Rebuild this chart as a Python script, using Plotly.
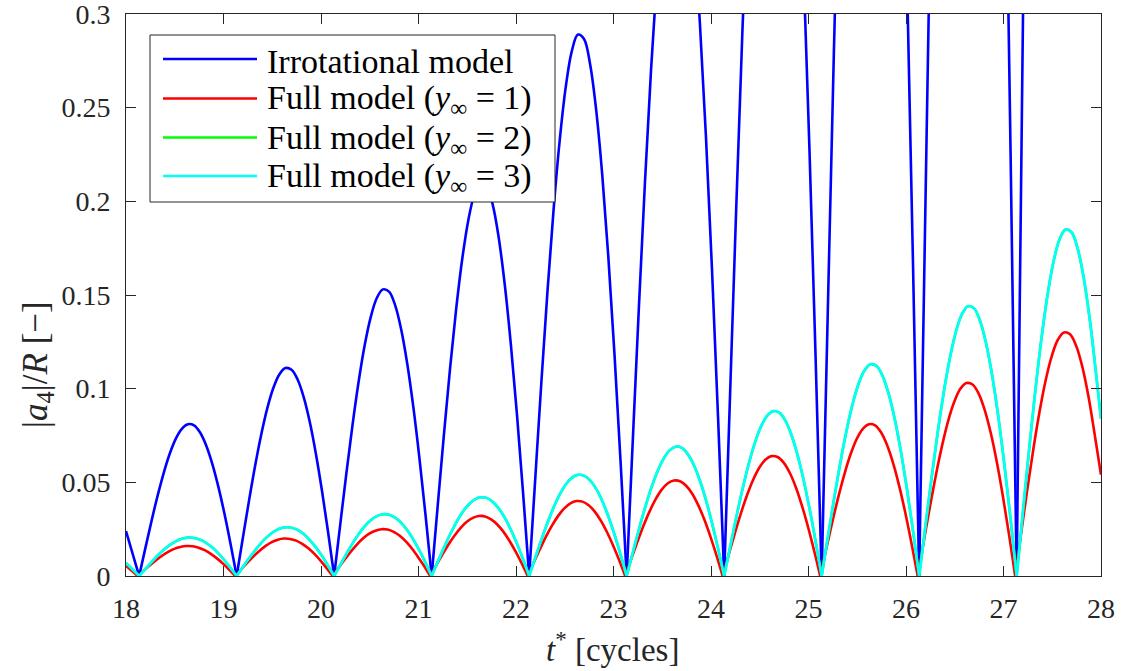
import plotly.graph_objects as go

# Sample times [cycles]: irrotational model and the y_inf = 2, 3 runs
T_MAIN = [
    18.0,
    18.135, 18.1975, 18.26, 18.3225, 18.385, 18.4475, 18.51, 18.5725,
    18.635, 18.6975, 18.76, 18.8225, 18.885, 18.9475, 19.01, 19.0725,
    19.135, 19.1975, 19.26, 19.3225, 19.385, 19.4475, 19.51, 19.5725,
    19.635, 19.6975, 19.76, 19.8225, 19.885, 19.9475, 20.01, 20.0725,
    20.135, 20.1975, 20.26, 20.3225, 20.385, 20.4475, 20.51, 20.5725,
    20.635, 20.6975, 20.76, 20.8225, 20.885, 20.9475, 21.01, 21.0725,
    21.135, 21.1975, 21.26, 21.3225, 21.385, 21.4475, 21.51, 21.5725,
    21.635, 21.6975, 21.76, 21.8225, 21.885, 21.9475, 22.01, 22.0725,
    22.135, 22.1975, 22.26, 22.3225, 22.385, 22.4475, 22.51, 22.5725,
    22.635, 22.6975, 22.76, 22.8225, 22.885, 22.9475, 23.01, 23.0725,
    23.135, 23.1975, 23.26, 23.3225, 23.385, 23.4475, 23.51, 23.5725,
    23.635, 23.6975, 23.76, 23.8225, 23.885, 23.9475, 24.01, 24.0725,
    24.135, 24.1975, 24.26, 24.3225, 24.385, 24.4475, 24.51, 24.5725,
    24.635, 24.6975, 24.76, 24.8225, 24.885, 24.9475, 25.01, 25.0725,
    25.135, 25.1975, 25.26, 25.3225, 25.385, 25.4475, 25.51, 25.5725,
    25.635, 25.6975, 25.76, 25.8225, 25.885, 25.9475, 26.01, 26.0725,
    26.135, 26.1975, 26.26, 26.3225, 26.385, 26.4475, 26.51, 26.5725,
    26.635, 26.6975, 26.76, 26.8225, 26.885, 26.9475, 27.01, 27.0725,
    27.135, 27.1975, 27.26, 27.3225, 27.385, 27.4475, 27.51, 27.5725,
    27.635, 27.6975, 27.76, 27.8225, 27.885, 27.9475, 28.0,
]

# Sample times [cycles]: y_inf = 1 run
T_Y1 = [
    18.0,
    18.12, 18.1825, 18.245, 18.3075, 18.37, 18.4325, 18.495, 18.5575,
    18.62, 18.6825, 18.745, 18.8075, 18.87, 18.9325, 18.995, 19.0575,
    19.12, 19.1825, 19.245, 19.3075, 19.37, 19.4325, 19.495, 19.5575,
    19.62, 19.6825, 19.745, 19.8075, 19.87, 19.9325, 19.995, 20.0575,
    20.12, 20.1825, 20.245, 20.3075, 20.37, 20.4325, 20.495, 20.5575,
    20.62, 20.6825, 20.745, 20.8075, 20.87, 20.9325, 20.995, 21.0575,
    21.12, 21.1825, 21.245, 21.3075, 21.37, 21.4325, 21.495, 21.5575,
    21.62, 21.6825, 21.745, 21.8075, 21.87, 21.9325, 21.995, 22.0575,
    22.12, 22.1825, 22.245, 22.3075, 22.37, 22.4325, 22.495, 22.5575,
    22.62, 22.6825, 22.745, 22.8075, 22.87, 22.9325, 22.995, 23.0575,
    23.12, 23.1825, 23.245, 23.3075, 23.37, 23.4325, 23.495, 23.5575,
    23.62, 23.6825, 23.745, 23.8075, 23.87, 23.9325, 23.995, 24.0575,
    24.12, 24.1825, 24.245, 24.3075, 24.37, 24.4325, 24.495, 24.5575,
    24.62, 24.6825, 24.745, 24.8075, 24.87, 24.9325, 24.995, 25.0575,
    25.12, 25.1825, 25.245, 25.3075, 25.37, 25.4325, 25.495, 25.5575,
    25.62, 25.6825, 25.745, 25.8075, 25.87, 25.9325, 25.995, 26.0575,
    26.12, 26.1825, 26.245, 26.3075, 26.37, 26.4325, 26.495, 26.5575,
    26.62, 26.6825, 26.745, 26.8075, 26.87, 26.9325, 26.995, 27.0575,
    27.12, 27.1825, 27.245, 27.3075, 27.37, 27.4325, 27.495, 27.5575,
    27.62, 27.6825, 27.745, 27.8075, 27.87, 27.9325, 28.0,
]

# |a4|/R, irrotational model
IRROTATIONAL = [
    0.024,
    0, 0.0146, 0.029, 0.0425, 0.0547, 0.0651, 0.0732, 0.0785,
    0.081, 0.0804, 0.0766, 0.0697, 0.0599, 0.0476, 0.0332, 0.0171,
    0, 0.02, 0.0397, 0.0583, 0.075, 0.0892, 0.1002, 0.1076,
    0.111, 0.1101, 0.1049, 0.0955, 0.0822, 0.0653, 0.0455, 0.0235,
    0, 0.0276, 0.0547, 0.0803, 0.1034, 0.123, 0.1382, 0.1484,
    0.153, 0.1518, 0.1446, 0.1316, 0.1132, 0.09, 0.0627, 0.0323,
    0, 0.0378, 0.0751, 0.1102, 0.1419, 0.1688, 0.1897, 0.2036,
    0.21, 0.2083, 0.1985, 0.1807, 0.1554, 0.1235, 0.0861, 0.0444,
    0, 0.052, 0.1033, 0.1517, 0.1953, 0.2322, 0.261, 0.2802,
    0.289, 0.2867, 0.2732, 0.2487, 0.2139, 0.17, 0.1184, 0.0611,
    0, 0.072, 0.143, 0.2099, 0.2702, 0.3214, 0.3612, 0.3879,
    0.4, 0.3968, 0.3781, 0.3442, 0.296, 0.2353, 0.1639, 0.0845,
    0, 0.1, 0.1984, 0.2913, 0.375, 0.446, 0.5012, 0.5382,
    0.555, 0.5506, 0.5246, 0.4775, 0.4108, 0.3265, 0.2274, 0.1173,
    0, 0.1405, 0.2788, 0.4093, 0.527, 0.6268, 0.7044, 0.7564,
    0.78, 0.7738, 0.7373, 0.6711, 0.5773, 0.4588, 0.3196, 0.1648,
    0, 0.1927, 0.3824, 0.5615, 0.7229, 0.8599, 0.9663, 1.0376,
    1.07, 1.0615, 1.0114, 0.9206, 0.7919, 0.6294, 0.4385, 0.2261,
    0, 0.2882, 0.5718, 0.8397, 1.081, 1.2858, 1.445, 1.5515,
    1.6, 1.5874, 1.5123, 1.3766, 1.1842, 0.9411, 0.70,
]

# |a4|/R, full model, y_inf = 1
FULL_Y1 = [
    0.0055,
    0, 0.0029, 0.0057, 0.0084, 0.0108, 0.0129, 0.0145, 0.0155,
    0.016, 0.0159, 0.0151, 0.0138, 0.0118, 0.0094, 0.0066, 0.0034,
    0, 0.0036, 0.0071, 0.0105, 0.0135, 0.0161, 0.0181, 0.0194,
    0.02, 0.0198, 0.0189, 0.0172, 0.0148, 0.0118, 0.0082, 0.0042,
    0, 0.0045, 0.0089, 0.0131, 0.0169, 0.0201, 0.0226, 0.0242,
    0.025, 0.0248, 0.0236, 0.0215, 0.0185, 0.0147, 0.0102, 0.0053,
    0, 0.0058, 0.0114, 0.0168, 0.0216, 0.0257, 0.0289, 0.031,
    0.032, 0.0318, 0.0302, 0.0275, 0.0237, 0.0188, 0.0131, 0.0068,
    0, 0.0072, 0.0143, 0.021, 0.027, 0.0321, 0.0361, 0.0388,
    0.04, 0.0397, 0.0378, 0.0344, 0.0296, 0.0235, 0.0164, 0.0085,
    0, 0.0092, 0.0182, 0.0268, 0.0345, 0.041, 0.0461, 0.0495,
    0.051, 0.0506, 0.0482, 0.0439, 0.0377, 0.03, 0.0209, 0.0108,
    0, 0.0115, 0.0229, 0.0336, 0.0432, 0.0514, 0.0578, 0.0621,
    0.064, 0.0635, 0.0605, 0.0551, 0.0474, 0.0376, 0.0262, 0.0135,
    0, 0.0146, 0.029, 0.0425, 0.0547, 0.0651, 0.0732, 0.0785,
    0.081, 0.0804, 0.0766, 0.0697, 0.0599, 0.0476, 0.0332, 0.0171,
    0, 0.0186, 0.0368, 0.0541, 0.0696, 0.0828, 0.093, 0.0999,
    0.103, 0.1022, 0.0974, 0.0886, 0.0762, 0.0606, 0.0422, 0.0218,
    0, 0.0234, 0.0465, 0.0682, 0.0878, 0.1045, 0.1174, 0.1261,
    0.13, 0.129, 0.1229, 0.1119, 0.0962, 0.0765, 0.054,
]

# |a4|/R, full model, y_inf = 2
FULL_Y2 = [
    0.007,
    0, 0.0037, 0.0073, 0.0108, 0.0139, 0.0165, 0.0185, 0.0199,
    0.0205, 0.0203, 0.0194, 0.0176, 0.0152, 0.0121, 0.0084, 0.0043,
    0, 0.0047, 0.0093, 0.0136, 0.0176, 0.0209, 0.0235, 0.0252,
    0.026, 0.0258, 0.0246, 0.0224, 0.0192, 0.0153, 0.0107, 0.0055,
    0, 0.0059, 0.0118, 0.0173, 0.0223, 0.0265, 0.0298, 0.032,
    0.033, 0.0327, 0.0312, 0.0284, 0.0244, 0.0194, 0.0135, 0.007,
    0, 0.0076, 0.015, 0.022, 0.0284, 0.0338, 0.0379, 0.0407,
    0.042, 0.0417, 0.0397, 0.0361, 0.0311, 0.0247, 0.0172, 0.0089,
    0, 0.0097, 0.0193, 0.0283, 0.0365, 0.0434, 0.0488, 0.0524,
    0.054, 0.0536, 0.051, 0.0465, 0.04, 0.0318, 0.0221, 0.0114,
    0, 0.0124, 0.0247, 0.0362, 0.0466, 0.0554, 0.0623, 0.0669,
    0.069, 0.0685, 0.0652, 0.0594, 0.0511, 0.0406, 0.0283, 0.0146,
    0, 0.0158, 0.0315, 0.0462, 0.0595, 0.0707, 0.0795, 0.0853,
    0.088, 0.0873, 0.0832, 0.0757, 0.0651, 0.0518, 0.0361, 0.0186,
    0, 0.0204, 0.0404, 0.0593, 0.0763, 0.0908, 0.1021, 0.1096,
    0.113, 0.1121, 0.1068, 0.0972, 0.0836, 0.0665, 0.0463, 0.0239,
    0, 0.0259, 0.0515, 0.0756, 0.0973, 0.1157, 0.1301, 0.1396,
    0.144, 0.1429, 0.1361, 0.1239, 0.1066, 0.0847, 0.059, 0.0304,
    0, 0.0333, 0.0661, 0.0971, 0.125, 0.1487, 0.1671, 0.1794,
    0.185, 0.1835, 0.1749, 0.1592, 0.1369, 0.1088, 0.084,
]

# |a4|/R, full model, y_inf = 3
FULL_Y3 = [
    0.007,
    0, 0.0037, 0.0073, 0.0108, 0.0139, 0.0165, 0.0185, 0.0199,
    0.0205, 0.0203, 0.0194, 0.0176, 0.0152, 0.0121, 0.0084, 0.0043,
    0, 0.0047, 0.0093, 0.0136, 0.0176, 0.0209, 0.0235, 0.0252,
    0.026, 0.0258, 0.0246, 0.0224, 0.0192, 0.0153, 0.0107, 0.0055,
    0, 0.0059, 0.0118, 0.0173, 0.0223, 0.0265, 0.0298, 0.032,
    0.033, 0.0327, 0.0312, 0.0284, 0.0244, 0.0194, 0.0135, 0.007,
    0, 0.0076, 0.015, 0.022, 0.0284, 0.0338, 0.0379, 0.0407,
    0.042, 0.0417, 0.0397, 0.0361, 0.0311, 0.0247, 0.0172, 0.0089,
    0, 0.0097, 0.0193, 0.0283, 0.0365, 0.0434, 0.0488, 0.0524,
    0.054, 0.0536, 0.051, 0.0465, 0.04, 0.0318, 0.0221, 0.0114,
    0, 0.0124, 0.0247, 0.0362, 0.0466, 0.0554, 0.0623, 0.0669,
    0.069, 0.0685, 0.0652, 0.0594, 0.0511, 0.0406, 0.0283, 0.0146,
    0, 0.0158, 0.0315, 0.0462, 0.0595, 0.0707, 0.0795, 0.0853,
    0.088, 0.0873, 0.0832, 0.0757, 0.0651, 0.0518, 0.0361, 0.0186,
    0, 0.0204, 0.0404, 0.0593, 0.0763, 0.0908, 0.1021, 0.1096,
    0.113, 0.1121, 0.1068, 0.0972, 0.0836, 0.0665, 0.0463, 0.0239,
    0, 0.0259, 0.0515, 0.0756, 0.0973, 0.1157, 0.1301, 0.1396,
    0.144, 0.1429, 0.1361, 0.1239, 0.1066, 0.0847, 0.059, 0.0304,
    0, 0.0333, 0.0661, 0.0971, 0.125, 0.1487, 0.1671, 0.1794,
    0.185, 0.1835, 0.1749, 0.1592, 0.1369, 0.1088, 0.084,
]

X_TICKS = [18, 19, 20, 21, 22, 23, 24, 25, 26, 27, 28]
Y_TICKS = [0, 0.05, 0.1, 0.15, 0.2, 0.25, 0.3]
Y_TICK_TEXT = ["0", "0.05", "0.1", "0.15", "0.2", "0.25", "0.3"]

SERIES = [
    ("Irrotational model", T_MAIN, IRROTATIONAL, "#0000ff"),
    ("Full model (<i>y</i><sub>∞</sub> = 1)", T_Y1, FULL_Y1, "#ff0000"),
    ("Full model (<i>y</i><sub>∞</sub> = 2)", T_MAIN, FULL_Y2, "#00ff00"),
    ("Full model (<i>y</i><sub>∞</sub> = 3)", T_MAIN, FULL_Y3, "#00ffff"),
]

FONT = "'Liberation Serif', 'Times New Roman', 'DejaVu Serif', serif"
INK = "#262626"
LINE_W = 2.6


def split_at_zeros(t, v):
    """Break the |a4| curve at its zeros so each lobe is smoothed on its own
    and the cusps stay sharp."""
    xs, ys = [], []
    for i, (ti, vi) in enumerate(zip(t, v)):
        xs.append(ti)
        ys.append(vi)
        if vi == 0 and 0 < i < len(v) - 1:
            xs += [None, ti]
            ys += [None, vi]
    return xs, ys


fig = go.Figure()
for name, t, v, color in SERIES:
    xs, ys = split_at_zeros(t, v)
    fig.add_trace(go.Scatter(
        x=xs, y=ys, mode="lines", name=name,
        line=dict(color=color, width=LINE_W, shape="spline", smoothing=1.0),
        connectgaps=False, showlegend=False,
    ))

axis_common = dict(
    showline=True, linecolor=INK, linewidth=1, mirror="ticks",
    ticks="inside", ticklen=10, tickwidth=1, tickcolor=INK,
    showgrid=False, zeroline=False, automargin=False,
    ticklabeloverflow="allow",
    tickfont=dict(family=FONT, size=28, color=INK),
)

fig.update_xaxes(range=[18, 28], tickvals=X_TICKS, ticklabelstandoff=7, **axis_common)
fig.update_yaxes(range=[0, 0.3], tickvals=Y_TICKS, ticktext=Y_TICK_TEXT,
                 ticklabelstandoff=9, **axis_common)

# Plot area in pixels: x 126..1101, y 14..576
PL, PR, PT, PB = 126, 1101, 14, 576


def px_x(px):
    return (px - PL) / (PR - PL)


def px_y(py):
    return (PB - py) / (PB - PT)


# Boxed legend in the upper-left corner of the axes
shapes = [dict(type="rect", xref="paper", yref="paper",
               x0=px_x(150), x1=px_x(555), y0=px_y(202), y1=px_y(35),
               line=dict(color=INK, width=1), fillcolor="white", layer="above")]
annotations = []
rows_y = [59, 98.5, 137.5, 176]
for (name, _, _, color), ry in zip(SERIES, rows_y):
    shapes.append(dict(type="line", xref="paper", yref="paper",
                       x0=px_x(163), x1=px_x(257), y0=px_y(ry), y1=px_y(ry),
                       line=dict(color=color, width=LINE_W), layer="above"))
    annotations.append(dict(xref="paper", yref="paper", x=px_x(265), y=px_y(ry + 2),
                            xanchor="left", yanchor="middle", text=name, showarrow=False,
                            font=dict(family=FONT, size=34, color="black")))

annotations.append(dict(xref="paper", yref="paper", x=px_x(612), y=px_y(647),
                        xanchor="center", yanchor="middle", showarrow=False,
                        text="<i>t</i><sup>*</sup> [cycles]",
                        font=dict(family=FONT, size=33, color=INK)))
annotations.append(dict(xref="paper", yref="paper", x=px_x(38), y=px_y(365),
                        xanchor="center", yanchor="middle", showarrow=False, textangle=-90,
                        text="|<i>a</i><sub>4</sub>|/<i>R</i> [−]",
                        font=dict(family=FONT, size=35, color=INK)))

fig.update_layout(
    width=1122, height=671,
    margin=dict(l=PL, r=1122 - PR, t=PT, b=671 - PB),
    paper_bgcolor="white", plot_bgcolor="white",
    shapes=shapes, annotations=annotations,
    font=dict(family=FONT, color=INK),
)

fig.write_html("out.html")
